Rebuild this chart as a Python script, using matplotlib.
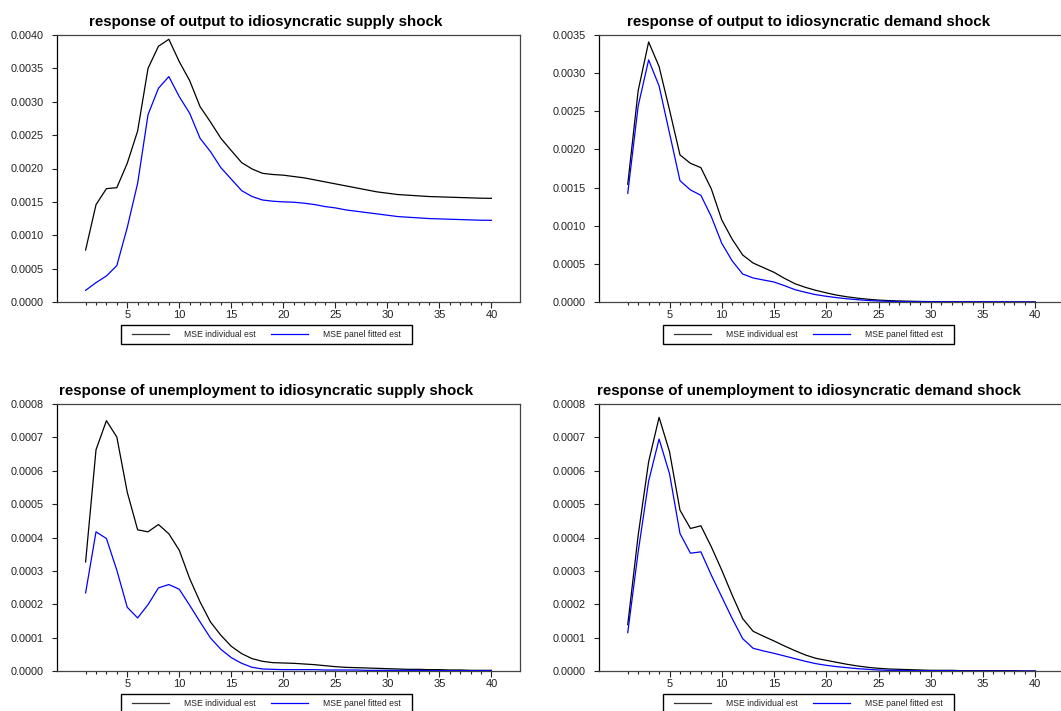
import numpy as np
import matplotlib.pyplot as plt
import matplotlib.ticker as mticker
from matplotlib.patches import Rectangle

plt.rcParams['font.family'] = ['Liberation Sans', 'DejaVu Sans']

horizon = list(range(1, 41))

# response of output to idiosyncratic supply shock
out_supply_indiv = [0.000779, 0.001458, 0.001698, 0.001713, 0.002078, 0.002562, 0.003501, 0.003831,
                    0.003936, 0.003601, 0.003317, 0.002927, 0.002697, 0.002453, 0.002268, 0.002088,
                    0.001993, 0.001928, 0.001910, 0.001900, 0.001880, 0.001860, 0.001830, 0.001800,
                    0.001770, 0.001740, 0.001710, 0.001680, 0.001650, 0.001630, 0.001610, 0.001600,
                    0.001590, 0.001580, 0.001575, 0.001570, 0.001565, 0.001560, 0.001555, 0.001553]
out_supply_panel = [0.000175, 0.000290, 0.000390, 0.000545, 0.001114, 0.001778, 0.002807, 0.003202,
                    0.003377, 0.003077, 0.002827, 0.002453, 0.002253, 0.002013, 0.001840, 0.001668,
                    0.001580, 0.001528, 0.001510, 0.001500, 0.001495, 0.001480, 0.001460, 0.001430,
                    0.001410, 0.001380, 0.001360, 0.001340, 0.001320, 0.001300, 0.001280, 0.001270,
                    0.001260, 0.001250, 0.001245, 0.001240, 0.001235, 0.001230, 0.001225, 0.001224]

# response of output to idiosyncratic demand shock
out_demand_indiv = [0.001543, 0.002771, 0.003409, 0.003086, 0.002517, 0.001928, 0.001818, 0.001761,
                    0.001482, 0.001075, 0.000822, 0.000616, 0.000511, 0.000450, 0.000389, 0.000310,
                    0.000240, 0.000192, 0.000153, 0.000120, 0.000090, 0.000068, 0.000050, 0.000036,
                    0.000025, 0.000018, 0.000013, 0.000010, 0.000007, 0.000005, 0.000004, 0.000003,
                    0.000003, 0.000002, 0.000002, 0.000002, 0.000001, 0.000001, 0.000001, 0.000001]
out_demand_panel = [0.001425, 0.002570, 0.003173, 0.002832, 0.002212, 0.001591, 0.001469, 0.001399,
                    0.001119, 0.000769, 0.000538, 0.000367, 0.000315, 0.000288, 0.000262, 0.000214,
                    0.000162, 0.000127, 0.000096, 0.000075, 0.000057, 0.000042, 0.000030, 0.000020,
                    0.000013, 0.000009, 0.000006, 0.000004, 0.000003, 0.000002, 0.000002, 0.000001,
                    0.000001, 0.000001, 0.000001, 0.000001, 0.000001, 0.000000, 0.000000, 0.000000]

# response of unemployment to idiosyncratic supply shock
un_supply_indiv = [0.000327, 0.000663, 0.000750, 0.000701, 0.000536, 0.000423, 0.000417, 0.000439,
                   0.000411, 0.000362, 0.000277, 0.000207, 0.000147, 0.000107, 0.000074, 0.000052,
                   0.000037, 0.000029, 0.000025, 0.000024, 0.000023, 0.000021, 0.000019, 0.000016,
                   0.000013, 0.000011, 0.000010, 0.000009, 0.000008, 0.000007, 0.000006, 0.000005,
                   0.000005, 0.000004, 0.000004, 0.000003, 0.000003, 0.000002, 0.000002, 0.000002]
un_supply_panel = [0.000234, 0.000417, 0.000397, 0.000302, 0.000191, 0.000159, 0.000199, 0.000249,
                   0.000259, 0.000245, 0.000197, 0.000147, 0.000099, 0.000065, 0.000040, 0.000023,
                   0.000011, 0.000006, 0.000005, 0.000004, 0.000004, 0.000004, 0.000004, 0.000003,
                   0.000003, 0.000003, 0.000003, 0.000002, 0.000002, 0.000002, 0.000002, 0.000002,
                   0.000002, 0.000001, 0.000001, 0.000001, 0.000001, 0.000001, 0.000001, 0.000001]

# response of unemployment to idiosyncratic demand shock
un_demand_indiv = [0.000139, 0.000407, 0.000627, 0.000760, 0.000657, 0.000482, 0.000427, 0.000435,
                   0.000372, 0.000302, 0.000227, 0.000157, 0.000119, 0.000104, 0.000090, 0.000075,
                   0.000061, 0.000048, 0.000038, 0.000032, 0.000026, 0.000020, 0.000015, 0.000011,
                   0.000008, 0.000006, 0.000005, 0.000004, 0.000003, 0.000002, 0.000002, 0.000002,
                   0.000001, 0.000001, 0.000001, 0.000001, 0.000001, 0.000001, 0.000000, 0.000000]
un_demand_panel = [0.000115, 0.000357, 0.000569, 0.000695, 0.000591, 0.000412, 0.000353, 0.000357,
                   0.000287, 0.000222, 0.000157, 0.000097, 0.000068, 0.000060, 0.000053, 0.000045,
                   0.000037, 0.000029, 0.000022, 0.000017, 0.000013, 0.000010, 0.000007, 0.000005,
                   0.000003, 0.000002, 0.000002, 0.000001, 0.000001, 0.000001, 0.000001, 0.000001,
                   0.000000, 0.000000, 0.000000, 0.000000, 0.000000, 0.000000, 0.000000, 0.000000]

titles = ["response of output to idiosyncratic supply shock",
          "response of output to idiosyncratic demand shock",
          "response of unemployment to idiosyncratic supply shock",
          "response of unemployment to idiosyncratic demand shock"]
series = [(out_supply_indiv, out_supply_panel), (out_demand_indiv, out_demand_panel),
          (un_supply_indiv, un_supply_panel), (un_demand_indiv, un_demand_panel)]
ylims = [(0.0040, 0.0005), (0.0035, 0.0005), (0.0008, 0.0001), (0.0008, 0.0001)]
legend_labels = ["MSE individual est", "MSE panel fitted est"]

W, H = 1061, 711
fig = plt.figure(figsize=(W / 100, H / 100), dpi=100)

# axes boxes in pixels: left, top, right, bottom
boxes = [(57, 35, 520, 302), (599, 35, 1064, 302),
         (57, 404, 520, 671), (599, 404, 1064, 671)]
title_x = [266, 808.5, 266, 808.5]
title_y = [22, 22, 391, 391]
# legend frame in pixels: left, top, right, bottom (bottom row is cut off by the page)
leg_boxes = [(121, 325, 412, 344), (663, 325, 954, 344),
             (121, 694, 412, 713), (663, 694, 954, 713)]

for i in range(4):
    l, t, r, b = boxes[i]
    ax = fig.add_axes([l / W, 1 - b / H, (r - l) / W, (b - t) / H])
    indiv, panel = series[i]
    ax.plot(horizon, indiv, color='black', lw=0.9, label=legend_labels[0])
    ax.plot(horizon, panel, color='#0000ff', lw=0.9, label=legend_labels[1])
    ax.set_xlim(-1.75, 42.75)
    top, step = ylims[i]
    ax.set_ylim(0, top)
    ax.yaxis.set_major_locator(mticker.MultipleLocator(step))
    ax.yaxis.set_major_formatter(mticker.FormatStrFormatter('%.4f'))
    ax.xaxis.set_major_locator(mticker.FixedLocator([5, 10, 15, 20, 25, 30, 35, 40]))
    ax.xaxis.set_minor_locator(mticker.FixedLocator(horizon))
    ax.tick_params(axis='y', which='major', direction='out', length=3.8, width=0.8,
                   labelsize=7.8, pad=5.5, colors='#222222')
    ax.tick_params(axis='x', which='major', direction='out', length=4.5, width=0.8,
                   labelsize=8, pad=1.5, colors='#222222')
    ax.tick_params(axis='x', which='minor', direction='out', length=2.3, width=0.8,
                   colors='#222222')
    for s in ax.spines.values():
        s.set_linewidth(0.9)
        s.set_color('#444444')
    ax.spines['left'].set_color('black')
    fig.text(title_x[i] / W, 1 - title_y[i] / H, titles[i], ha='center', va='center',
             fontsize=10.9, fontweight='bold')

    # legend: frame drawn separately so the padding matches the original
    bl, bt, br, bb = leg_boxes[i]
    fig.patches.append(Rectangle((bl / W, 1 - bb / H), (br - bl) / W, (bb - bt) / H,
                                 transform=fig.transFigure, fill=False,
                                 edgecolor='black', linewidth=1.0))
    leg = fig.legend(handles=ax.get_lines(), loc='center',
                     bbox_to_anchor=((bl + br) / 2 / W, 1 - (bt + 10) / H), ncol=2,
                     fontsize=6.2, frameon=False, handlelength=4.3,
                     columnspacing=1.8, handletextpad=1.7, borderpad=0)
    for line in leg.get_lines():
        line.set_color('#333333' if line.get_label() == legend_labels[0] else '#0000ff')
    for txt in leg.get_texts():
        txt.set_color('#222222')

fig.savefig('out.png', dpi=100)
